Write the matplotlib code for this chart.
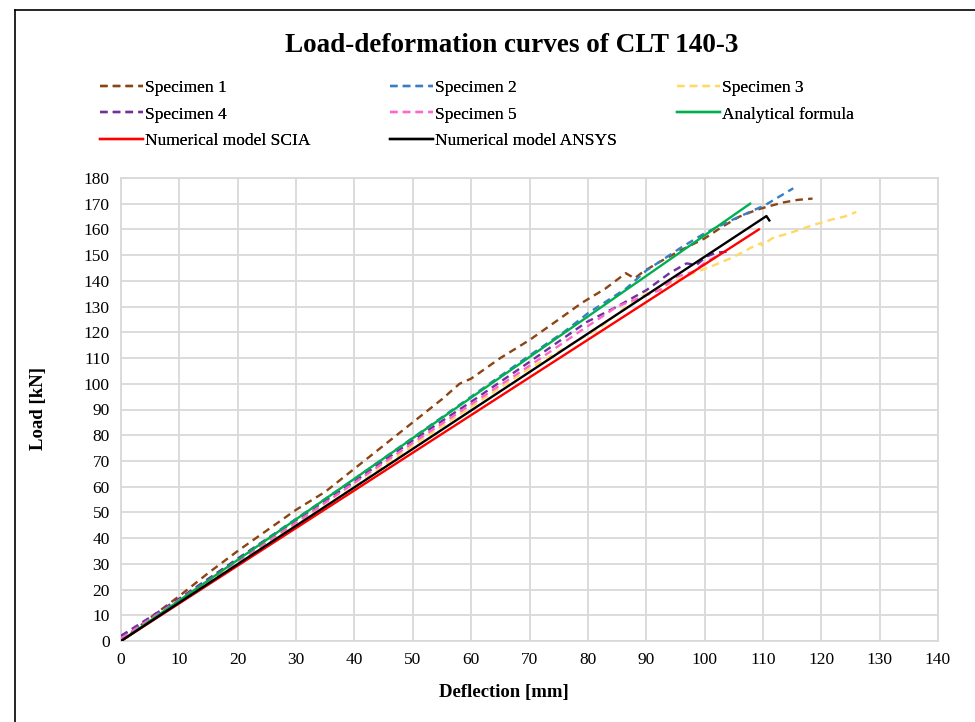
import matplotlib
matplotlib.use("Agg")
import matplotlib.pyplot as plt
from matplotlib.lines import Line2D

plt.rcParams['font.family'] = ['Liberation Serif', 'DejaVu Serif']

# ---- data (deflection [mm], load [kN]) ----
s1_x = [0, 5, 10, 15, 20, 25, 30, 35, 40, 45, 50, 55, 58, 60, 65, 70, 75, 79, 83, 86.5, 88, 89.5, 92, 96, 100, 103, 106, 108.9, 111, 113.5, 116, 118.5]
s1_y = [0, 9, 17.5, 26.5, 35, 43, 51, 58, 67, 76, 85, 94, 100, 102, 110, 117, 125, 131.5, 137, 143, 141, 143.6, 147, 152, 156.5, 161, 165, 167.6, 169, 170.5, 171.5, 172]

s2_x = [0, 5, 10, 20, 30, 40, 50, 60, 70, 76, 80, 86.6, 90, 94, 96, 100, 105, 110.4, 115.2]
s2_y = [2, 8, 16, 32, 47.5, 63, 79, 95, 111, 120.3, 127.4, 137.1, 144, 150, 153, 158.5, 164, 169.5, 176]

s3_x = [0, 10, 20, 30, 40, 50, 60, 70, 82, 86.6, 90, 95, 98.6, 101, 104.9, 108.3, 109.7, 109.8, 111.7, 114.6, 118.6, 122, 124, 126]
s3_y = [0, 15, 30, 45, 60, 76, 91, 106, 121.7, 130, 135, 140, 143.5, 145.5, 149.2, 153.3, 154.7, 153.8, 156.7, 158.6, 161.7, 164, 165, 166.8]

s4_x = [0, 10, 20, 30, 40, 50, 60, 70, 79.8, 85, 90.1, 94, 96.9, 98.6, 100.3, 102, 104.4]
s4_y = [2, 16.5, 32, 47, 62, 78, 93, 108.5, 124, 130, 136.5, 143, 146.8, 146.2, 149.4, 151, 151.4]

s5_x = [0, 10, 20, 30, 40, 50, 60, 70, 78.6, 85, 92.4, 95.2, 98, 100.3, 102]
s5_y = [1, 16, 31, 46, 61.5, 77, 92, 107, 120.3, 130, 136.5, 141.6, 143.5, 147.5, 149.5]

af_x = [0, 107.8]
af_y = [0, 170]

scia_x = [0, 109.3]
scia_y = [0, 160]

ansys_x = [0, 110.6, 111.1]
ansys_y = [0, 165.2, 163.5]

x_ticks = list(range(0, 141, 10))
y_ticks = list(range(0, 181, 10))

# ---- figure ----
W, H = 975, 722
fig = plt.figure(figsize=(W / 100, H / 100), dpi=100)
ax = fig.add_axes([121 / W, 1 - 641 / H, (938 - 121) / W, (641 - 178) / H])

grid_c = '#D9D9D9'
dash = (3.2, 2.2)
lw = 1.7

series = [
    (s1_x, s1_y, '#8B4513', 'dash', 'Specimen 1'),
    (s2_x, s2_y, '#3B7DC4', 'dash', 'Specimen 2'),
    (s3_x, s3_y, '#FFD966', 'dash', 'Specimen 3'),
    (s4_x, s4_y, '#7030A0', 'dash', 'Specimen 4'),
    (s5_x, s5_y, '#FF66CC', 'dash', 'Specimen 5'),
    (af_x, af_y, '#00B050', 'solid', 'Analytical formula'),
    (scia_x, scia_y, '#FF0000', 'solid', 'Numerical model SCIA'),
    (ansys_x, ansys_y, '#000000', 'solid', 'Numerical model ANSYS'),
]

handles = {}
for x, y, c, st, lab in series:
    if st == 'dash':
        ln, = ax.plot(x, y, color=c, lw=lw, dashes=dash, label=lab, zorder=3)
    else:
        ln, = ax.plot(x, y, color=c, lw=lw, label=lab, zorder=3)
    handles[lab] = ln

ax.set_xlim(0, 140)
ax.set_ylim(0, 180)
ax.set_xticks(x_ticks)
ax.set_yticks(y_ticks)
ax.grid(True, color=grid_c, lw=1.3)
ax.set_axisbelow(True)
for sp in ax.spines.values():
    sp.set_color(grid_c)
    sp.set_linewidth(1.3)
ax.tick_params(length=0, labelsize=12.5, pad=8)

fig.text(504 / W, 1 - 693 / H, 'Deflection [mm]', ha='center', va='center',
         fontsize=13.5, fontweight='bold')
fig.text(38 / W, 1 - 408 / H, 'Load [kN]', ha='center', va='center',
         rotation=90, fontsize=13.5, fontweight='bold')
fig.text(512 / W, 1 - 46 / H, 'Load-deformation curves of CLT 140-3', ha='center',
         va='center', fontsize=19.5, fontweight='bold')

# legend in three columns placed separately
cols = [
    (100, ['Specimen 1', 'Specimen 4', 'Numerical model SCIA']),
    (390, ['Specimen 2', 'Specimen 5', 'Numerical model ANSYS']),
    (677, ['Specimen 3', 'Analytical formula']),
]
for xpx, labs in cols:
    leg = fig.legend([handles[l] for l in labs], labs, loc='upper left',
                     bbox_to_anchor=(xpx / W, 1 - 79.5 / H), frameon=False,
                     fontsize=12.5, handlelength=2.45, handletextpad=0.15,
                     labelspacing=0.62, borderpad=0, borderaxespad=0)
    fig.add_artist(leg)

# chart border (top and left visible)
fig.add_artist(Line2D([15 / W, 15 / W], [0, 1 - 10 / H], transform=fig.transFigure,
                      color='black', lw=1.2))
fig.add_artist(Line2D([15 / W, 1], [1 - 10 / H, 1 - 10 / H], transform=fig.transFigure,
                      color='black', lw=1.2))

fig.savefig('out.png', dpi=100)
